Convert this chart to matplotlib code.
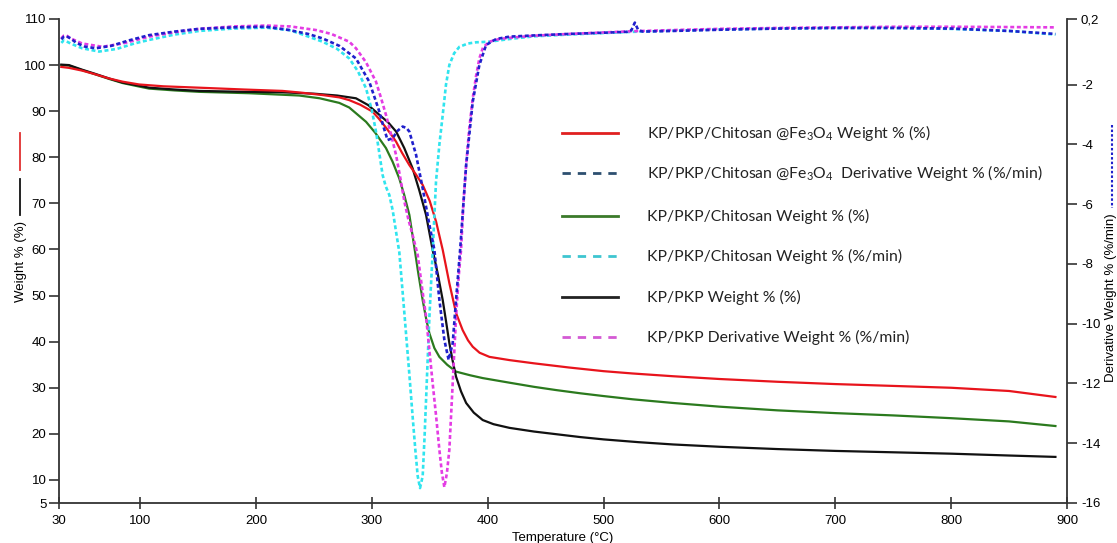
import matplotlib
matplotlib.use("Agg")
import matplotlib.pyplot as plt
from matplotlib.lines import Line2D

plt.rcParams['font.family'] = ['Liberation Sans', 'DejaVu Sans']
plt.rcParams['mathtext.fontset'] = 'custom'
plt.rcParams['mathtext.rm'] = 'Lato'
plt.rcParams['mathtext.it'] = 'Lato'

# ---------------- data ----------------
T_red = [32, 38.6, 50, 60, 73.2, 85, 99.1, 120, 150.9, 190, 222.9, 240, 257.5, 271.9, 280.5, 290,
         300.7, 306, 312, 316.5, 320.9, 326, 332.4, 338, 343.9, 350, 355.5, 361.2, 366.9, 372.7,
         378.4, 383, 387.1, 393, 401.5, 418.8, 440, 470, 500, 525, 560, 600, 650, 700, 750, 800,
         850, 890]
W_red = [99.6, 99.4, 98.8, 98.1, 97.1, 96.4, 95.8, 95.4, 95.1, 94.7, 94.4, 94.0, 93.5, 93.0, 92.4,
         91.4, 89.9, 88.4, 86.5, 85.0, 83.4, 81.0, 78.3, 76.3, 74.0, 70.5, 66.0, 59.9, 52.7, 46.2,
         42.5, 40.3, 38.9, 37.6, 36.7, 36.0, 35.3, 34.4, 33.6, 33.1, 32.5, 31.9, 31.3, 30.8, 30.4,
         30.0, 29.3, 28.0]

T_blk = [32, 38.6, 50, 60, 73.2, 85, 100, 107.8, 130, 150.9, 190, 222.9, 250, 270, 286.3, 297,
         306.5, 314, 320.9, 328, 335.2, 341, 346.8, 352.5, 357, 361.2, 364, 366.9, 369.8, 372.7,
         377, 381.4, 388, 395.7, 405, 418.8, 440, 460, 480, 500, 530, 560, 600, 650, 700, 750,
         800, 850, 890]
W_blk = [100.1, 100.0, 99.0, 98.2, 97.1, 96.2, 95.5, 95.1, 94.7, 94.4, 94.2, 94.1, 93.8, 93.4,
         92.8, 91.3, 89.2, 87.6, 85.6, 82.0, 77.6, 72.8, 67.5, 59.9, 54.6, 49.0, 44.5, 39.7, 35.8,
         32.4, 29.2, 26.7, 24.6, 23.0, 22.1, 21.3, 20.5, 19.9, 19.3, 18.8, 18.2, 17.7, 17.2, 16.7,
         16.3, 16.0, 15.7, 15.3, 15.0]

T_grn = [32, 38.6, 50, 60, 73.2, 85, 100, 107.8, 130, 150.9, 194, 237.3, 255, 271.9, 280.5, 295,
         303, 312.2, 318, 323.7, 328, 332.4, 336.7, 340, 343.9, 347, 349.7, 354, 358.3, 365,
         372.7, 385, 395.7, 418.8, 440, 459, 480, 500, 525, 560, 600, 650, 700, 750, 800, 850,
         890]
W_grn = [100.0, 99.9, 98.9, 98.1, 97.0, 96.1, 95.3, 94.9, 94.5, 94.2, 93.9, 93.4, 92.8, 91.8,
         90.8, 87.7, 85.3, 82.0, 79.0, 75.4, 71.8, 67.5, 60.5, 55.0, 49.0, 44.8, 41.8, 38.6, 36.7,
         35.0, 33.5, 32.7, 32.1, 31.1, 30.2, 29.5, 28.8, 28.2, 27.5, 26.7, 25.9, 25.1, 24.5, 24.0,
         23.4, 22.7, 21.7]

T_dblu = [32, 34, 36.5, 40, 45, 52, 61.7, 75, 90, 107.8, 130, 150.9, 180, 208.6, 228.7, 245,
          257.5, 272, 286.3, 297.8, 306.5, 310, 313.6, 318, 322, 326.6, 330, 332.4, 338.2, 343.9,
          349.7, 354, 358.3, 362.6, 366.3, 369.8, 372.7, 376.2, 381.4, 387.1, 392.8, 398.6,
          407.3, 418.8, 440, 470, 500, 520, 524, 527, 530, 534, 560, 600, 650, 700, 750, 800,
          850, 890]
D_dblu = [-0.48, -0.40, -0.38, -0.45, -0.60, -0.72, -0.78, -0.70, -0.52, -0.34, -0.22, -0.13,
          -0.08, -0.06, -0.17, -0.30, -0.45, -0.70, -1.12, -1.90, -2.90, -3.40, -3.85, -3.79,
          -3.55, -3.40, -3.45, -3.57, -4.35, -5.47, -6.69, -7.53, -9.20, -10.54, -11.21, -10.65,
          -9.20, -7.53, -4.69, -2.57, -1.34, -0.67, -0.47, -0.39, -0.35, -0.30, -0.26, -0.23,
          -0.18, 0.08, -0.18, -0.22, -0.20, -0.16, -0.12, -0.10, -0.10, -0.12, -0.20, -0.30]

T_dcyn = [32, 34, 36.5, 40, 50, 64.6, 80, 95, 107.8, 130, 150.9, 180, 208.6, 228.7, 237.3, 257.5,
          270, 280.5, 288, 295, 300, 303.6, 306.5, 309.3, 312, 315.1, 318, 320.9, 323.7, 326.5,
          329.5, 332.4, 335.2, 337.5, 339.6, 341.6, 343.9, 345.5, 346.8, 349.7, 352.5, 355.4,
          358.3, 361.2, 364, 366.9, 371, 375.6, 383, 390, 401.5, 418.8, 440, 470, 500, 525, 560,
          600, 650, 700, 750, 800, 850, 890]
D_dcyn = [-0.60, -0.52, -0.55, -0.62, -0.78, -0.89, -0.80, -0.62, -0.50, -0.32, -0.20, -0.12,
          -0.09, -0.17, -0.28, -0.56, -0.80, -1.12, -1.55, -2.12, -2.85, -3.57, -4.30, -5.02,
          -5.40, -5.69, -6.20, -6.92, -7.60, -8.90, -10.32, -11.70, -13.10, -14.20, -15.10,
          -15.50, -15.10, -13.80, -12.55, -9.76, -7.60, -5.24, -4.00, -3.01, -2.00, -1.34, -0.95,
          -0.73, -0.62, -0.58, -0.56, -0.47, -0.38, -0.32, -0.27, -0.23, -0.19, -0.15, -0.12,
          -0.10, -0.10, -0.13, -0.20, -0.32]

T_dmag = [32, 34, 36.5, 40, 50, 67.4, 85, 107.8, 130, 150.9, 180, 208.6, 230, 251.8, 265, 280.5,
          286.3, 295, 303.6, 308, 312.2, 316.5, 320.9, 324.5, 328.1, 331.5, 335.2, 339.6, 343,
          346.8, 349.7, 352.5, 355.5, 358.3, 360.5, 362.6, 364.8, 366.9, 369.8, 372.7, 375, 377,
          379, 381.4, 384, 387.1, 390, 392.8, 396, 401.5, 410, 418.8, 440, 470, 500, 525, 560,
          600, 650, 700, 750, 800, 850, 890]
D_dmag = [-0.45, -0.36, -0.35, -0.45, -0.62, -0.73, -0.62, -0.39, -0.24, -0.13, -0.05, -0.02,
          -0.05, -0.17, -0.30, -0.56, -0.78, -1.25, -1.90, -2.45, -3.01, -3.65, -4.35, -5.10,
          -5.91, -6.50, -7.03, -7.70, -8.70, -9.76, -10.90, -11.99, -13.10, -14.22, -15.00,
          -15.47, -15.00, -14.22, -11.99, -9.76, -8.40, -7.53, -6.00, -4.69, -3.50, -2.45, -1.70,
          -1.12, -0.75, -0.56, -0.47, -0.43, -0.36, -0.30, -0.25, -0.21, -0.17, -0.13, -0.10,
          -0.08, -0.06, -0.06, -0.07, -0.08]

x_ticks = [30, 100, 200, 300, 400, 500, 600, 700, 800, 900]
left_ticks = [5, 10, 20, 30, 40, 50, 60, 70, 80, 90, 100, 110]
right_ticks = [0.2, -2, -4, -6, -8, -10, -12, -14, -16]
right_labels = ["0,2", "-2", "-4", "-6", "-8", "-10", "-12", "-14", "-16"]

legend_labels = [
    r"KP/PKP/Chitosan @Fe$_3$O$_4$ Weight % (%)",
    r"KP/PKP/Chitosan @Fe$_3$O$_4$  Derivative Weight % (%/min)",
    "KP/PKP/Chitosan Weight % (%)",
    "KP/PKP/Chitosan Weight % (%/min)",
    "KP/PKP Weight % (%)",
    "KP/PKP Derivative Weight % (%/min)",
]

# ---------------- figure ----------------
W_PX, H_PX = 1117, 543
fig = plt.figure(figsize=(W_PX / 100, H_PX / 100), dpi=100)
L, R, TOP, BOT = 59, 1067, 19, 503
ax = fig.add_axes([L / W_PX, 1 - BOT / H_PX, (R - L) / W_PX, (BOT - TOP) / H_PX])
ax2 = ax.twinx()

c_red, c_grn, c_blk = '#e8141c', '#2b7a1e', '#111111'
c_blu, c_cyn, c_mag = '#2020cc', '#30e4ee', '#e43ce4'

ax.plot(T_red, W_red, color=c_red, lw=1.6, zorder=3)
ax.plot(T_grn, W_grn, color=c_grn, lw=1.6, zorder=2)
ax.plot(T_blk, W_blk, color=c_blk, lw=1.6, zorder=2)

dots = (0, (1.5, 1.0))
ax2.plot(T_dcyn, D_dcyn, color=c_cyn, lw=1.9, ls=dots)
ax2.plot(T_dmag, D_dmag, color=c_mag, lw=1.9, ls=dots)
ax2.plot(T_dblu, D_dblu, color=c_blu, lw=1.9, ls=dots)

ax.set_xlim(30, 900)
ax.set_ylim(5, 110)
ax2.set_ylim(-16, 0.2)
ax.set_xticks(x_ticks)
ax.set_yticks(left_ticks)
ax2.set_yticks(right_ticks)
ax2.set_yticklabels(right_labels)

spc = '#333333'
for a in (ax, ax2):
    a.spines['top'].set_visible(False)
    for s in ('left', 'right', 'bottom'):
        a.spines[s].set_color(spc)
        a.spines[s].set_linewidth(1.3)
ax.spines['right'].set_visible(False)
ax2.spines['left'].set_visible(False)
ax2.spines['bottom'].set_visible(False)

ax.tick_params(axis='y', direction='out', length=7, width=1.2, color=spc, labelsize=9.5, pad=2)
ax.tick_params(axis='x', direction='inout', length=9, width=1.2, color=spc, labelsize=9.5, pad=4)
ax2.tick_params(axis='y', direction='out', length=7, width=1.2, color=spc, labelsize=9.5, pad=3)

ax.set_xlabel("Temperature (°C)", fontsize=9.5)
ax.xaxis.set_label_coords(0.5, (BOT - 538) / (BOT - TOP))
ax.xaxis.label.set_va('center')

ax.set_ylabel("Weight % (%)", fontsize=9.5)
ax.yaxis.set_label_coords((21 - L) / (R - L), (BOT - 262) / (BOT - TOP))
ax.yaxis.label.set_va('center')
ax2.set_ylabel("Derivative Weight % (%/min)", fontsize=9.5, rotation=90)
ax2.yaxis.set_label_coords((1111 - L) / (R - L), (BOT - 298) / (BOT - TOP))
ax2.yaxis.label.set_va('center')


def fx(px):
    return px / W_PX


def fy(py):
    return 1 - py / H_PX


# coloured markers beside axis titles
fig.add_artist(Line2D([fx(20), fx(20)], [fy(133), fy(170)], color='#e03030', lw=1.3))
fig.add_artist(Line2D([fx(20), fx(20)], [fy(179), fy(215)], color='#111111', lw=1.3))
fig.add_artist(Line2D([fx(1112), fx(1112)], [fy(125), fy(208)], color=c_blu, lw=1.5,
                      ls=(0, (1.2, 1.0))))

# legend
leg_colors = ['#e02020', '#2d4f70', '#3b7a2a', '#3ec5d0', '#222222', '#d45ad4']
leg_styles = ['-', (0, (3.0, 2.5)), '-', (0, (3.0, 2.5)), '-', (0, (3.0, 2.5))]
leg_y = [133, 173, 216, 256, 297, 337]
for lab, col, st, yy in zip(legend_labels, leg_colors, leg_styles, leg_y):
    fig.add_artist(Line2D([fx(562), fx(618)], [fy(yy), fy(yy)], color=col, lw=2.0, ls=st))
    fig.text(fx(647), fy(yy), lab, fontsize=11.3, family=['Lato', 'DejaVu Sans'],
             color='#222222', va='center', ha='left')

fig.savefig("out.png", dpi=100)
